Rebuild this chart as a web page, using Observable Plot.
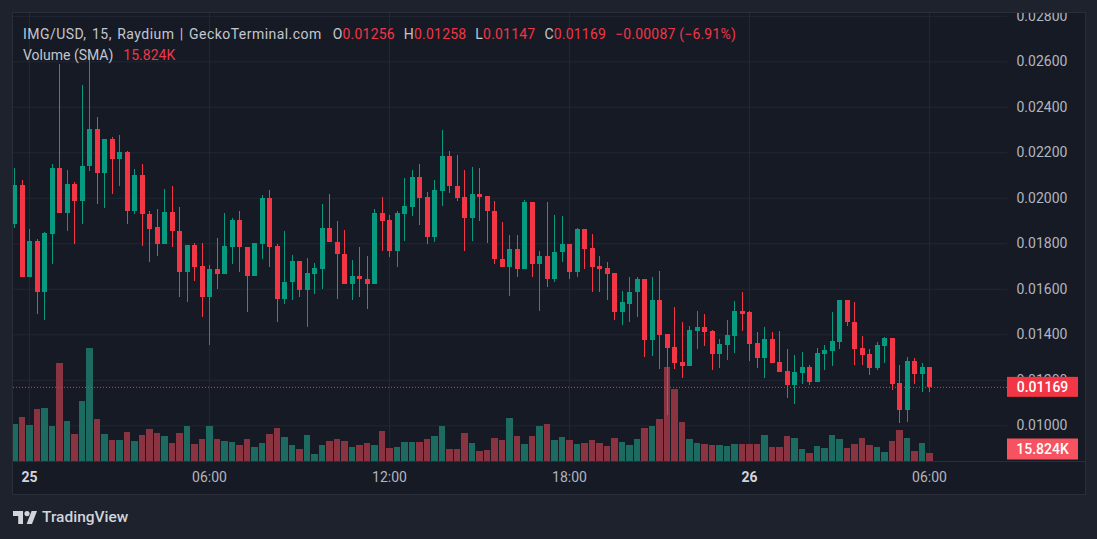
<!DOCTYPE html>
<html>
<head>
<meta charset="utf-8">
<script src="https://cdn.jsdelivr.net/npm/d3@7"></script>
<script src="https://cdn.jsdelivr.net/npm/@observablehq/plot@0.6"></script>
<style>
  html, body { margin: 0; padding: 0; background: #1e222d; }
  body { width: 1097px; height: 539px; position: relative; overflow: hidden; font-family: Roboto, "Noto Sans", sans-serif; }
  #frame { position: absolute; left: 12px; top: 12px; width: 1072px; height: 481px; border: 1px solid #2a2e39; background: #161a25; }
  #frame svg { position: absolute; left: 0; top: 0; }
  #sep { position: absolute; left: 0; top: 448px; width: 1072px; height: 1px; background: #2a2e39; }
  .legend { position: absolute; left: 23px; font-size: 14px; line-height: 20px; color: #c3c6ce; white-space: nowrap; }
  #l1 .name { letter-spacing: 0.45px; word-spacing: 1.5px; }
  #l1 .v, #l1 .k { letter-spacing: 0.2px; }
  .legend .v { color: #f23645; }
  .legend .k { margin-left: 9px; }
  #logo { position: absolute; left: 13px; top: 508px; display: flex; align-items: center; color: #d1d4dc; font-size: 15.5px; font-weight: 500; }
  #logo svg { margin-right: 5px; }
</style>
</head>
<body>
<div id="frame"></div>
<div class="legend" id="l1" style="top:24px"></div>
<div class="legend" id="l2" style="top:45px"></div>
<div id="logo">
  <svg width="24" height="13" viewBox="0 0 24 13"><path d="M0 0H10V13H5.2V5H0Z" fill="#d1d4dc"/><circle cx="14" cy="2.6" r="2.6" fill="#d1d4dc"/><path d="M18.6 0H24L19 13H13.6Z" fill="#d1d4dc"/></svg>
  <span>TradingView</span>
</div>
<script>
// ---- data (15-minute candles, first at 24th 23:30 UTC) ----
const startTime = "2024-01-24T23:30:00Z";
const stepMinutes = 15;
const open = [
  0.01886,0.02057,0.01650,0.01811,0.01584,0.01843,0.02132,0.01935,0.02062,0.01988,
  0.02138,0.02304,0.02111,0.02260,0.02169,0.02202,0.01940,0.02101,0.01930,0.01870,
  0.01795,0.01938,0.01855,0.01672,0.01793,0.01701,0.01566,0.01688,0.01667,0.01784,
  0.01903,0.01784,0.01658,0.01799,0.02000,0.01789,0.01557,0.01628,0.01723,0.01597,
  0.01667,0.01689,0.01868,0.01806,0.01754,0.01623,0.01657,0.01645,0.01623,0.01934,
  0.01903,0.01768,0.01930,0.01960,0.02092,0.02004,0.01826,0.02032,0.02185,0.02053,
  0.02004,0.01912,0.02018,0.02009,0.01943,0.01732,0.01698,0.01776,0.01689,0.01982,
  0.01711,0.01745,0.01645,0.01760,0.01798,0.01676,0.01864,0.01780,0.01701,0.01692,
  0.01670,0.01500,0.01535,0.01584,0.01645,0.01377,0.01553,0.01402,0.01346,0.01280,
  0.01262,0.01416,0.01434,0.01416,0.01315,0.01355,0.01394,0.01504,0.01496,0.01362,
  0.01298,0.01381,0.01280,0.01240,0.01179,0.01232,0.01258,0.01192,0.01315,0.01328,
  0.01368,0.01553,0.01456,0.01342,0.01315,0.01254,0.01350,0.01386,0.01188,0.01069,
  0.01284,0.01227,0.01256
];
const high = [
  0.02133,0.02079,0.01864,0.01820,0.01850,0.02150,0.02589,0.02123,0.02070,0.02497,
  0.02630,0.02356,0.02260,0.02268,0.02277,0.02208,0.02128,0.02150,0.01944,0.01949,
  0.02040,0.02053,0.01960,0.01793,0.01802,0.01802,0.01705,0.01824,0.01934,0.01912,
  0.01943,0.01784,0.01802,0.02013,0.02035,0.01798,0.01855,0.01749,0.01723,0.01736,
  0.01714,0.01974,0.02018,0.01899,0.01859,0.01727,0.01784,0.01746,0.01952,0.02004,
  0.01925,0.01943,0.02088,0.02123,0.02150,0.02026,0.02079,0.02299,0.02207,0.02189,
  0.02123,0.02136,0.02132,0.02009,0.01987,0.01894,0.01837,0.01837,0.01991,0.01982,
  0.01767,0.01982,0.01925,0.01921,0.01798,0.01868,0.01864,0.01842,0.01745,0.01716,
  0.01670,0.01592,0.01650,0.01650,0.01645,0.01650,0.01680,0.01402,0.01518,0.01452,
  0.01438,0.01504,0.01491,0.01421,0.01381,0.01465,0.01548,0.01588,0.01504,0.01408,
  0.01430,0.01412,0.01416,0.01337,0.01311,0.01324,0.01267,0.01342,0.01355,0.01496,
  0.01553,0.01553,0.01540,0.01394,0.01337,0.01368,0.01390,0.01386,0.01267,0.01302,
  0.01298,0.01276,0.01258
];
const low = [
  0.01869,0.01650,0.01650,0.01490,0.01465,0.01711,0.01935,0.01856,0.01799,0.01883,
  0.02116,0.01971,0.01957,0.02019,0.02050,0.01887,0.01931,0.01790,0.01716,0.01746,
  0.01795,0.01786,0.01562,0.01544,0.01636,0.01474,0.01353,0.01601,0.01663,0.01711,
  0.01676,0.01496,0.01658,0.01729,0.01694,0.01456,0.01535,0.01553,0.01562,0.01434,
  0.01579,0.01601,0.01804,0.01557,0.01619,0.01553,0.01562,0.01513,0.01619,0.01768,
  0.01738,0.01694,0.01812,0.01921,0.01881,0.01799,0.01808,0.01966,0.02023,0.01988,
  0.01768,0.01812,0.01899,0.01802,0.01707,0.01698,0.01570,0.01654,0.01685,0.01650,
  0.01504,0.01610,0.01632,0.01716,0.01645,0.01650,0.01685,0.01584,0.01584,0.01553,
  0.01465,0.01443,0.01452,0.01478,0.01302,0.01306,0.01249,0.01047,0.01249,0.01210,
  0.01262,0.01337,0.01350,0.01245,0.01254,0.01289,0.01320,0.01416,0.01284,0.01254,
  0.01210,0.01276,0.01236,0.01122,0.01095,0.01183,0.01179,0.01192,0.01245,0.01262,
  0.01337,0.01438,0.01267,0.01267,0.01223,0.01245,0.01276,0.01157,0.01012,0.01016,
  0.01183,0.01148,0.01147
];
const close = [
  0.02057,0.01650,0.01811,0.01584,0.01846,0.02132,0.01935,0.02062,0.01988,0.02141,
  0.02304,0.02111,0.02260,0.02169,0.02202,0.01940,0.02101,0.01927,0.01865,0.01795,
  0.01938,0.01852,0.01672,0.01793,0.01698,0.01566,0.01688,0.01667,0.01789,0.01903,
  0.01782,0.01658,0.01802,0.02000,0.01784,0.01557,0.01630,0.01723,0.01597,0.01670,
  0.01692,0.01868,0.01804,0.01751,0.01623,0.01657,0.01641,0.01623,0.01934,0.01899,
  0.01768,0.01934,0.01965,0.02092,0.02000,0.01826,0.02035,0.02185,0.02050,0.02000,
  0.01912,0.02018,0.02004,0.01940,0.01729,0.01698,0.01776,0.01689,0.01982,0.01711,
  0.01745,0.01645,0.01762,0.01798,0.01676,0.01864,0.01777,0.01698,0.01688,0.01667,
  0.01500,0.01540,0.01588,0.01645,0.01377,0.01553,0.01399,0.01342,0.01276,0.01262,
  0.01421,0.01434,0.01412,0.01315,0.01359,0.01399,0.01504,0.01491,0.01359,0.01298,
  0.01381,0.01276,0.01236,0.01179,0.01236,0.01258,0.01192,0.01320,0.01333,0.01372,
  0.01553,0.01452,0.01337,0.01311,0.01254,0.01355,0.01386,0.01183,0.01069,0.01284,
  0.01227,0.01258,0.01169
];
// volume in thousands
const volume = [
  48.8,58.1,47.5,68.6,70.0,46.2,129.4,52.8,35.6,79.2,
  149.2,55.4,35.6,27.7,27.7,38.3,26.4,34.3,42.2,37.0,
  33.0,23.8,37.0,46.2,22.4,29.0,46.2,29.0,26.4,25.1,
  21.1,29.0,18.5,23.8,35.6,43.6,31.7,21.1,15.8,34.3,
  9.2,21.1,26.4,29.0,26.4,18.5,21.1,23.8,21.1,39.6,
  17.2,18.5,25.1,25.1,25.1,29.0,33.0,46.2,15.8,15.8,
  37.0,23.8,13.2,14.5,30.4,27.7,56.8,33.0,22.4,33.0,
  46.2,48.8,27.7,31.7,27.7,22.4,23.8,27.7,23.8,19.8,
  30.4,25.1,21.1,29.0,43.6,46.2,55.4,124.1,95.0,51.5,
  29.0,23.8,22.4,21.1,21.1,19.8,22.4,22.4,22.4,22.4,
  34.3,18.5,18.5,33.0,30.4,15.8,10.6,19.8,17.2,34.3,
  29.0,17.2,22.4,30.4,21.1,18.5,11.9,26.4,40.9,30.4,
  13.2,23.8,10.6
];
const volumeSMA = 15.824;
const priceTicks = [0.010,0.012,0.014,0.016,0.018,0.020,0.022,0.024,0.026,0.028];
const timeTicks = ["2024-01-25T00:00:00Z","2024-01-25T06:00:00Z","2024-01-25T12:00:00Z","2024-01-25T18:00:00Z","2024-01-26T00:00:00Z","2024-01-26T06:00:00Z"];
const timeLabels = ["25","06:00","12:00","18:00","26","06:00"];
const dayLabel = [true,false,false,false,true,false];
const changeText = "\u22120.00087 (\u22126.91%)";

// ---- layout ----
const W = 1072, H = 481, MR = 78, MB = 33;
const UP = "#089981", DOWN = "#f23645";
const VUP = "#1d6b60", VDOWN = "#8a3341";
const GRID = "#232733";

const t0 = new Date(startTime).getTime();
const stepMs = stepMinutes * 60000;
const candles = open.map((o, i) => ({
  t: new Date(t0 + i * stepMs), o, h: high[i], l: low[i], c: close[i], v: volume[i], up: close[i] >= o
}));
const xDomain = [new Date(t0 - 2 * 60000), new Date(t0 + 1986 * 60000)];
const yDomain = [0.008431, 0.028125];
const ticksT = timeTicks.map(d => new Date(d));
const labelOf = new Map(ticksT.map((d, i) => [+d, timeLabels[i]]));
const dayTicks = ticksT.filter((d, i) => dayLabel[i]);
const hourTicks = ticksT.filter((d, i) => !dayLabel[i]);
const base = {
  width: W, height: H, marginLeft: 0, marginRight: MR, marginTop: 0, marginBottom: MB,
  style: { background: "transparent", fontFamily: "Roboto, sans-serif", overflow: "hidden" }
};

const gridPlot = Plot.plot({
  ...base,
  x: { type: "utc", domain: xDomain },
  y: { domain: yDomain },
  marks: [
    Plot.ruleY(priceTicks, { stroke: GRID }),
    Plot.ruleX(ticksT, { stroke: GRID }),
    Plot.axisY(priceTicks, { anchor: "right", tickSize: 0, tickPadding: 9, tickFormat: d => d.toFixed(5), fill: "#b2b5be", fontSize: 14, label: null }),
    Plot.axisX(dayTicks, { tickSize: 0, tickPadding: 11, tickFormat: d => labelOf.get(+d), fill: "#d1d4dc", fontWeight: "bold", fontSize: 14, label: null }),
    Plot.axisX(hourTicks, { tickSize: 0, tickPadding: 11, tickFormat: d => labelOf.get(+d), fill: "#b2b5be", fontSize: 14, label: null })
  ]
});

function sideLabel(value, text, color, h) {
  return (index, scales, values, dims) => {
    const y = scales.y(value);
    const x0 = dims.width - dims.marginRight;
    const g = d3.create("svg:g");
    g.append("rect").attr("x", x0).attr("y", y - h / 2).attr("width", 71).attr("height", h).attr("fill", color);
    g.append("text").attr("x", x0 + 35.5).attr("y", y).attr("dy", "0.36em").attr("text-anchor", "middle")
      .attr("fill", "#ffffff").attr("font-size", 14).attr("font-weight", 500).attr("font-family", "Roboto, sans-serif").text(text);
    return g.node();
  };
}

const volPlot = Plot.plot({
  ...base,
  x: { type: "utc", domain: xDomain, axis: null },
  y: { domain: [0, 591.4], axis: null },
  color: { type: "identity" },
  marks: [
    Plot.ruleX(candles, { x: "t", y1: 0, y2: "v", stroke: d => d.up ? VUP : VDOWN, strokeWidth: 6.5, shapeRendering: "crispEdges" }),
    sideLabel(volumeSMA, volumeSMA.toFixed(3) + "K", "#f7525f", 21)
  ]
});

const last = candles[candles.length - 1];
const pricePlot = Plot.plot({
  ...base,
  x: { type: "utc", domain: xDomain, axis: null },
  y: { domain: yDomain, axis: null },
  color: { type: "identity" },
  marks: [
    Plot.ruleY([last.c], { stroke: DOWN, strokeDasharray: "1,2" }),
    Plot.ruleX(candles, { x: "t", y1: "l", y2: "h", stroke: d => d.up ? UP : DOWN, strokeWidth: 1, shapeRendering: "crispEdges" }),
    Plot.ruleX(candles, { x: "t", y1: "o", y2: "c", stroke: d => d.up ? UP : DOWN, strokeWidth: 5, shapeRendering: "crispEdges" }),
    sideLabel(last.c, last.c.toFixed(5), DOWN, 20)
  ]
});

const frame = document.getElementById("frame");
frame.append(gridPlot, volPlot, pricePlot);
const sep = document.createElement("div"); sep.id = "sep"; frame.append(sep);

// legend
const l1 = document.getElementById("l1");
const f = v => v.toFixed(5);
l1.innerHTML = `<span class="name">IMG/USD, 15, Raydium | GeckoTerminal.com</span>` +
  `<span class="k" style="margin-left:11px">O</span><span class="v">${f(last.o)}</span>` +
  `<span class="k">H</span><span class="v">${f(last.h)}</span>` +
  `<span class="k">L</span><span class="v">${f(last.l)}</span>` +
  `<span class="k">C</span><span class="v">${f(last.c)}</span>` +
  `<span class="v" style="margin-left:9px">${changeText}</span>`;
document.getElementById("l2").innerHTML = `<span>Volume (SMA)</span><span class="v" style="margin-left:10px">${volumeSMA.toFixed(3)}K</span>`;
</script>
</body>
</html>
